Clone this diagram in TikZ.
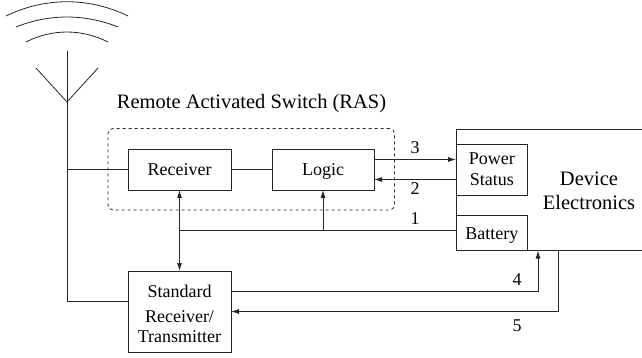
\documentclass[tikz,border=0pt]{standalone}
\usepackage{fontspec}
\setmainfont{Liberation Serif}
\usetikzlibrary{arrows.meta}
\tikzset{
  wire/.style={line width=0.8pt,black!85},
  arr/.style={wire,-{Latex[length=8pt,width=5pt]}},
  dbl/.style={wire,{Latex[length=8pt,width=5pt]}-{Latex[length=8pt,width=5pt]}},
  box/.style={draw=black!85,line width=0.8pt,rectangle,inner sep=0pt,outer sep=0pt,align=center,font=\fontsize{18}{21}\selectfont},
  lab/.style={inner sep=0pt,font=\fontsize{18}{20}\selectfont},
}
\begin{document}
\begin{tikzpicture}[x=1pt,y=-1pt]
\useasboundingbox (0,0) rectangle (642,358);
\clip (0,0) rectangle (642,358);
% waves
\draw[wire] (6,16) .. controls (45,-3) and (89,-3) .. (128,16);
\draw[wire] (16,27) .. controls (49,13.7) and (85,13.7) .. (118,27);
\draw[wire] (26,42) .. controls (52,28.7) and (82,28.7) .. (108,42);
% dashed RAS boundary
\node[lab,font=\fontsize{20.5}{22}\selectfont] (title) at (251.5,103.5) {Remote Activated Switch (RAS)};
\node[draw=black!85,dashed,line width=0.8pt,rounded corners=5pt,minimum width=286.5pt,minimum height=81.5pt,inner sep=0pt,outer sep=0pt] (ras) at (251.25,169.25) {};
% boxes
\node[box,minimum width=103pt,minimum height=41pt] (receiver) at (179.5,169.5) {Receiver};
\node[box,minimum width=102pt,minimum height=41pt,text depth=0pt] (logic) at (323,169.5) {Logic};
\node[box,minimum width=103pt,minimum height=81pt] (standard) at (179.5,311.5) {};
\node[lab,align=center,font=\fontsize{18}{20}\selectfont] (stdlabel) at (179.5,314) {Standard\\[5pt]Receiver/\\Transmitter};
\node[box,minimum width=204pt,minimum height=121.5pt] (device) at (558,189.75) {};
\node[lab,align=center,font=\fontsize{20.5}{24}\selectfont] (devlabel) at (589,191) {Device\\Electronics};
\node[box,minimum width=71.5pt,minimum height=51pt] (power) at (491.75,169.5) {Power\\Status};
\node[box,minimum width=71.5pt,minimum height=35.5pt] (battery) at (491.75,232.75) {};
\node[lab] (batlabel) at (491.75,236) {Battery};
% antenna
\coordinate (top) at (67,51);
\coordinate (apex) at (67,102);
\coordinate (tapL) at (67,169.5);
\coordinate (corner) at (67,301);
\coordinate (vL) at (36,68);
\coordinate (vR) at (98,68);
\draw[wire] (top) -- (corner) -- ([yshift=10.5pt]standard.west);
\draw[wire] (vL) -- (apex) -- (vR);
\draw[wire] (tapL) -- (receiver.west);
\draw[wire] (receiver.east) -- (logic.west);
% signals
\draw[arr] ([yshift=10pt]logic.east) -- ([yshift=10pt]power.west);
\draw[arr] ([yshift=-10pt]power.west) -- ([yshift=-10pt]logic.east);
\coordinate (bus) at (179.5,230.5);
\coordinate (busL) at (323,230.5);
\draw[wire] ([yshift=2.25pt]battery.west) -- (bus);
\draw[dbl] (receiver.south) -- (standard.north);
\draw[arr] (busL) -- (logic.south);
\coordinate (c4) at (538,291);
\coordinate (d4) at (538,250.5);
\coordinate (d5) at (558,250.5);
\coordinate (c5) at (558,311.5);
\draw[arr] ([yshift=20.5pt]standard.east) -- (c4) -- (d4);
\draw[arr] (d5) -- (c5) -- (standard.east);
% labels
\node[lab] (n3) at (415,148) {3};
\node[lab] (n2) at (415,189) {2};
\node[lab] (n1) at (415,218.5) {1};
\node[lab] (n4) at (517,280) {4};
\node[lab] (n5) at (517,326) {5};
\end{tikzpicture}
\end{document}
